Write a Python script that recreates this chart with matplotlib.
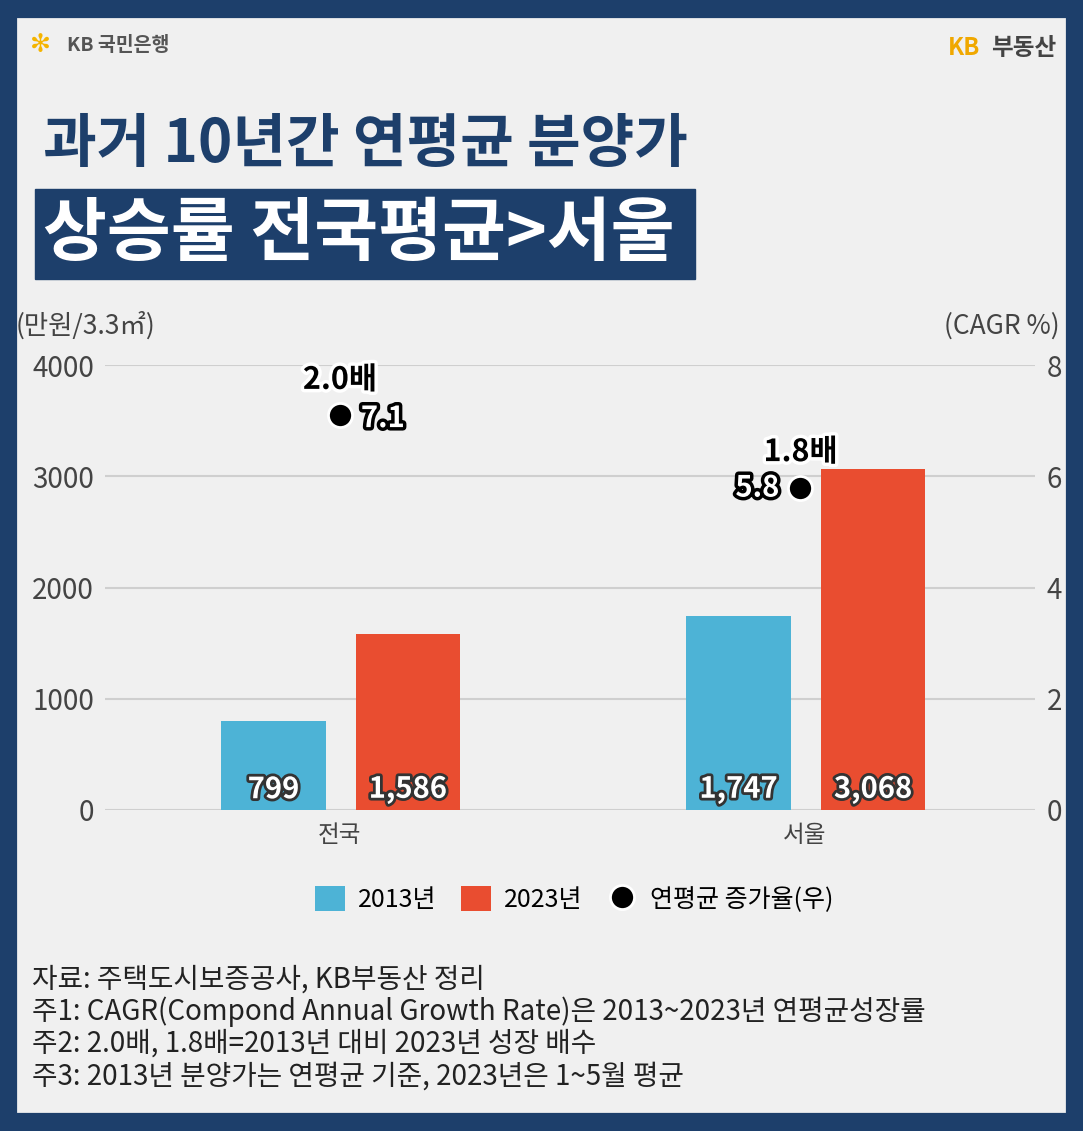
import matplotlib.pyplot as plt
import matplotlib.patheffects as pe
from matplotlib.patches import Rectangle

plt.rcParams['font.family'] = ['Noto Sans CJK KR', 'DejaVu Sans']

regions = ['전국', '서울']
price_2013 = [799, 1747]
price_2023 = [1586, 3068]
cagr = [7.1, 5.8]
multiple = ['2.0배', '1.8배']
labels_2013 = ['799', '1,747']
labels_2023 = ['1,586', '3,068']

navy = '#1d3f6b'
blue = '#4db3d6'
red = '#e94d30'

fig = plt.figure(figsize=(10.83, 11.31), dpi=100)
fig.patch.set_facecolor('#f0f0f0')
fig.add_artist(Rectangle((0.006, 0.006), 0.988, 0.988, transform=fig.transFigure,
                         fill=False, ec=navy, lw=16))

# header
fig.text(0.028, 0.960, '✻', color='#f5b400', fontsize=18, va='center')
fig.text(0.062, 0.960, 'KB 국민은행', color='#555555', fontsize=14, va='center', weight='bold')
fig.text(0.905, 0.958, 'KB', color='#f0a800', fontsize=17, va='center', ha='right', weight='bold')
fig.text(0.975, 0.958, '부동산', color='#444444', fontsize=17, va='center', ha='right', weight='bold')
fig.text(0.040, 0.872, '과거 10년간 연평균 분양가', color=navy, fontsize=42, weight='black', va='center')
fig.add_artist(Rectangle((0.032, 0.753), 0.610, 0.080, transform=fig.transFigure,
                         color=navy))
fig.text(0.040, 0.792, '상승률 전국평균>서울', color='white', fontsize=50, weight='black', va='center')

ax = fig.add_axes([0.097, 0.284, 0.859, 0.393])
ax2 = ax.twinx()
ax.set_facecolor('none')
x = [0, 1]
w = 0.225
b1 = ax.bar([i - 0.143 for i in x], price_2013, w, color=blue, label='2013년', zorder=2)
b2 = ax.bar([i + 0.146 for i in x], price_2023, w, color=red, label='2023년', zorder=2)
ax.set_xlim(-0.505, 1.495)
ax.set_ylim(0, 4000)
ax.set_yticks([0, 1000, 2000, 3000, 4000])
ax.set_xticks(x)
ax.set_xticklabels(regions)
ax.grid(axis='y', color='#cfcfcf', lw=1.5, zorder=0)
for a in (ax, ax2):
    for s in a.spines.values():
        s.set_visible(False)
    a.tick_params(length=0, labelsize=20, colors='#444444', pad=8)
ax.tick_params(axis='x', labelsize=17, pad=10)
ax2.set_ylim(0, 8)
ax2.set_yticks([0, 2, 4, 6, 8])
ax2.set_yticklabels(['0', '2', '4', '6', '8'])

stroke = [pe.withStroke(linewidth=4, foreground='#333333')]
for i in x:
    ax.text(i - 0.143, 50, labels_2013[i], ha='center', va='bottom', color='white',
            fontsize=21, weight='bold', path_effects=stroke)
    ax.text(i + 0.146, 50, labels_2023[i], ha='center', va='bottom', color='white',
            fontsize=21, weight='bold', path_effects=stroke)

dot_x = [0, 0.99]
ax2.scatter(dot_x, cagr, s=300, color='black', edgecolor='white', lw=2, zorder=5,
            label='연평균 증가율(우)')
wstroke = [pe.withStroke(linewidth=5, foreground='white')]
ax2.text(dot_x[0] + 0.045, cagr[0] - 0.05, f'{cagr[0]}', color='white', fontsize=21, weight='bold',
         va='center', ha='left', path_effects=[pe.withStroke(linewidth=5, foreground='black')])
ax2.text(dot_x[1] - 0.045, cagr[1], f'{cagr[1]}', color='white', fontsize=21, weight='bold',
         va='center', ha='right', path_effects=[pe.withStroke(linewidth=5, foreground='black')])
ax2.text(dot_x[0], cagr[0] + 0.35, multiple[0], color='black', fontsize=22, weight='bold',
         ha='center', va='bottom', path_effects=wstroke)
ax2.text(dot_x[1], cagr[1] + 0.35, multiple[1], color='black', fontsize=22, weight='bold',
         ha='center', va='bottom', path_effects=wstroke)

fig.text(0.014, 0.712, '(만원/3.3㎡)', fontsize=19, color='#444444', va='center')
fig.text(0.978, 0.712, '(CAGR %)', fontsize=19, color='#444444', va='center', ha='right')

h = [b1, b2, ax2.collections[0]]
fig.legend(h, ['2013년', '2023년', '연평균 증가율(우)'], loc='center', bbox_to_anchor=(0.53, 0.205),
           ncol=3, frameon=False, fontsize=18, handlelength=1.2, handleheight=1.2,
           columnspacing=1.0, handletextpad=0.5)

notes = ['자료: 주택도시보증공사, KB부동산 정리',
         '주1: CAGR(Compond Annual Growth Rate)은 2013~2023년 연평균성장률',
         '주2: 2.0배, 1.8배=2013년 대비 2023년 성장 배수',
         '주3: 2013년 분양가는 연평균 기준, 2023년은 1~5월 평균']
for k, n in enumerate(notes):
    fig.text(0.030, 0.134 - k * 0.0285, n, fontsize=20, color='#222222', va='center')

fig.savefig('out.png', dpi=100, facecolor=fig.get_facecolor())
